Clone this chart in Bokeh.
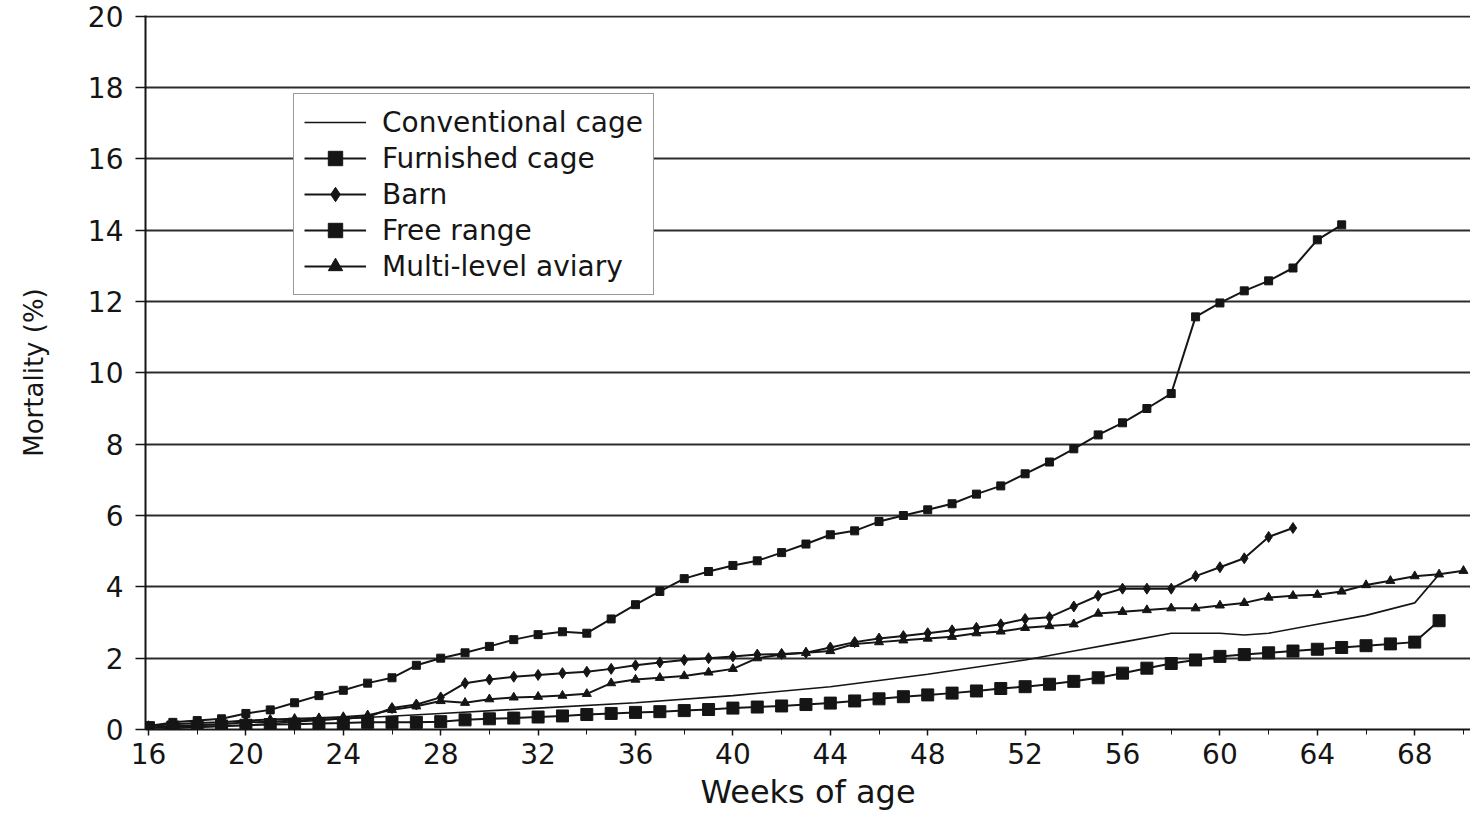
from bokeh.plotting import figure
from bokeh.models import FixedTicker, Range1d, Legend, LegendItem
from bokeh.embed import file_html
from bokeh.resources import INLINE

# ---- data ----
conv_weeks = [16, 20, 24, 28, 32, 36, 40, 44, 48, 52, 54, 56, 58, 60, 61, 62, 64, 66, 68, 69]
conventional = [0.0, 0.12, 0.3, 0.45, 0.6, 0.75, 0.95, 1.2, 1.55, 1.95, 2.2, 2.45, 2.7, 2.7, 2.65, 2.7, 2.95, 3.2, 3.55, 4.35]

furn_weeks = list(range(16, 70))
furnished = [0.05, 0.07, 0.08, 0.1, 0.12, 0.14, 0.15, 0.17, 0.18, 0.2, 0.2, 0.2, 0.22, 0.27, 0.3,
             0.32, 0.35, 0.38, 0.42, 0.45, 0.48, 0.5, 0.53, 0.56, 0.6, 0.63, 0.66, 0.7, 0.74, 0.8,
             0.86, 0.92, 0.97, 1.02, 1.08, 1.15, 1.2, 1.27, 1.35, 1.45, 1.58, 1.72, 1.85, 1.95, 2.05,
             2.1, 2.15, 2.2, 2.25, 2.3, 2.35, 2.4, 2.45, 3.05]

barn_weeks = list(range(16, 64))
barn = [0.05, 0.1, 0.12, 0.15, 0.2, 0.22, 0.25, 0.28, 0.3, 0.35, 0.6, 0.7, 0.9, 1.3, 1.4, 1.48,
        1.53, 1.58, 1.62, 1.7, 1.8, 1.88, 1.95, 2.0, 2.05, 2.1, 2.12, 2.15, 2.3, 2.45, 2.55, 2.62,
        2.7, 2.78, 2.85, 2.95, 3.1, 3.15, 3.45, 3.75, 3.95, 3.95, 3.95, 4.3, 4.55, 4.8, 5.4, 5.65]

fr_weeks = list(range(16, 66))
free_range = [0.1, 0.2, 0.25, 0.3, 0.45, 0.55, 0.75, 0.95, 1.1, 1.3, 1.45, 1.8, 2.0, 2.15, 2.33,
              2.52, 2.66, 2.74, 2.7, 3.1, 3.5, 3.87, 4.23, 4.43, 4.6, 4.73, 4.96, 5.2, 5.46, 5.57,
              5.83, 6.0, 6.16, 6.33, 6.6, 6.83, 7.17, 7.5, 7.87, 8.26, 8.6, 9.0, 9.42, 11.57, 11.96,
              12.3, 12.58, 12.94, 13.73, 14.15]

av_weeks = list(range(16, 71))
aviary = [0.1, 0.15, 0.18, 0.2, 0.25, 0.28, 0.3, 0.32, 0.35, 0.4, 0.55, 0.65, 0.8, 0.75, 0.85, 0.9,
          0.92, 0.95, 1.0, 1.3, 1.4, 1.45, 1.5, 1.6, 1.7, 2.0, 2.1, 2.15, 2.2, 2.4, 2.45, 2.5, 2.55,
          2.6, 2.7, 2.75, 2.85, 2.9, 2.95, 3.25, 3.3, 3.35, 3.4, 3.4, 3.48, 3.55, 3.7, 3.75, 3.78,
          3.87, 4.05, 4.17, 4.3, 4.35, 4.45]

x_ticks = list(range(16, 69, 4))
x_minor = list(range(16, 71, 2))
y_ticks = list(range(0, 21, 2))

FONT = "DejaVu Sans"
INK = "#151515"

p = figure(width=1470, height=816, output_backend="svg", toolbar_location=None,
           x_range=Range1d(15.877, 70.29), y_range=Range1d(0, 20.02),
           min_border_left=145, min_border_right=0, min_border_top=15, min_border_bottom=87)
p.outline_line_color = None
p.background_fill_color = "white"
p.xgrid.visible = False
p.ygrid.grid_line_color = INK
p.ygrid.grid_line_width = 2
p.ygrid.grid_line_alpha = 0.9

p.xaxis.ticker = FixedTicker(ticks=x_ticks, minor_ticks=x_minor)
p.yaxis.ticker = FixedTicker(ticks=y_ticks)
for ax in (p.xaxis[0], p.yaxis[0]):
    ax.axis_line_color = INK
    ax.axis_line_width = 2
    ax.major_tick_line_color = INK
    ax.major_tick_line_width = 1.5
    ax.minor_tick_line_color = INK
    ax.major_label_text_font = FONT
    ax.major_label_text_font_size = "28px"
    ax.major_label_text_color = INK
    ax.axis_label_text_font = FONT
    ax.axis_label_text_font_style = "normal"
    ax.axis_label_text_color = INK
p.yaxis.major_tick_out = 10
p.yaxis.major_tick_in = 0
p.yaxis.minor_tick_out = 0
p.yaxis.minor_tick_in = 0
p.yaxis.major_label_standoff = 12
p.yaxis.axis_label = "Mortality (%)"
p.yaxis.axis_label_text_font_size = "26px"
p.yaxis.axis_label_standoff = 36
p.xaxis.major_tick_out = 6
p.xaxis.major_tick_in = 0
p.xaxis.minor_tick_out = 5
p.xaxis.minor_tick_in = 0
p.xaxis.major_label_standoff = 7
p.xaxis.axis_label = "Weeks of age"
p.xaxis.axis_label_text_font_size = "32px"
p.xaxis.axis_label_standoff = 6

items = []
r1 = p.line(conv_weeks, conventional, line_color=INK, line_width=1.6)
items.append(LegendItem(label="Conventional cage", renderers=[r1]))

r2l = p.line(furn_weeks, furnished, line_color=INK, line_width=2)
r2m = p.scatter(furn_weeks, furnished, marker="square", size=12, fill_color=INK, line_color=INK)
items.append(LegendItem(label="Furnished cage", renderers=[r2l, r2m]))

r3l = p.line(barn_weeks, barn, line_color=INK, line_width=2)
r3m = p.scatter(barn_weeks, barn, marker="diamond", size=11, fill_color=INK, line_color=INK)
items.append(LegendItem(label="Barn", renderers=[r3l, r3m]))

r4l = p.line(fr_weeks, free_range, line_color=INK, line_width=2)
r4m = p.scatter(fr_weeks, free_range, marker="square", size=8, fill_color=INK, line_color=INK)
items.append(LegendItem(label="Free range", renderers=[r4l, r4m]))

r5l = p.line(av_weeks, aviary, line_color=INK, line_width=2)
r5m = p.scatter(av_weeks, aviary, marker="triangle", size=9, fill_color=INK, line_color=INK)
items.append(LegendItem(label="Multi-level aviary", renderers=[r5l, r5m]))

legend = Legend(items=items, location=(148, 434), orientation="vertical")
legend.label_text_font = FONT
legend.label_text_font_size = "28px"
legend.label_text_color = INK
legend.label_height = 36
legend.glyph_height = 36
legend.glyph_width = 62
legend.label_standoff = 16
legend.spacing = 0
legend.padding = 10
legend.margin = 0
legend.border_line_color = "#333333"
legend.border_line_width = 1.5
legend.background_fill_color = "white"
legend.background_fill_alpha = 1.0
p.add_layout(legend, "center")

open("out.html", "w").write(file_html(p, INLINE))
